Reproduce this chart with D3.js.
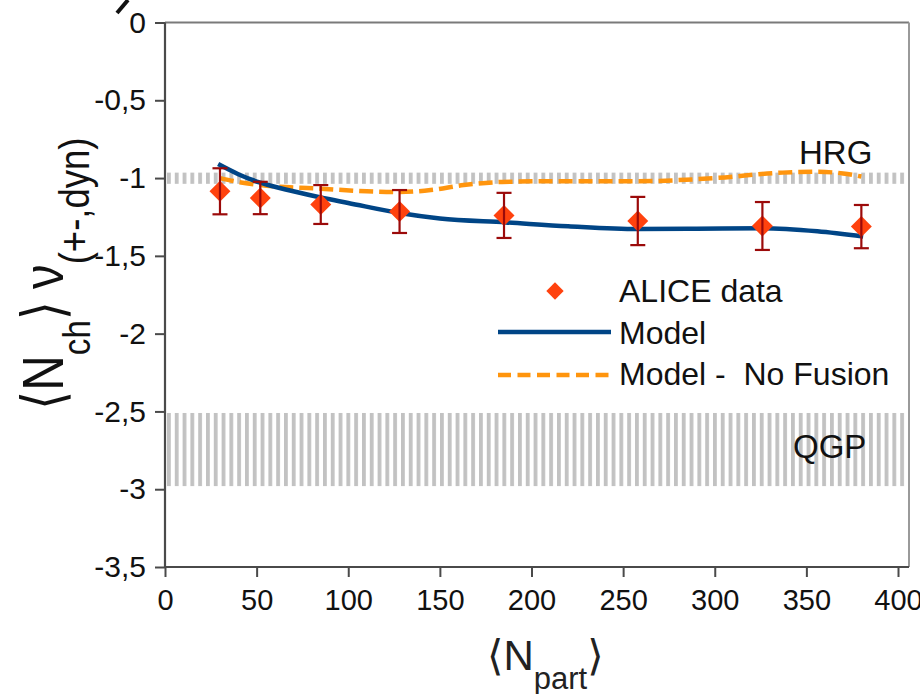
<!DOCTYPE html>
<html>
<head>
<meta charset="utf-8">
<script src="https://cdn.jsdelivr.net/npm/d3@7/dist/d3.min.js"></script>
<style>
  html, body { margin: 0; padding: 0; background: #fff; }
  svg { display: block; font-family: "Liberation Sans", Arial, sans-serif; }
</style>
</head>
<body>
<svg id="chart" width="920" height="694"></svg>
<script>
// ALICE measurement: centrality classes by <Npart>
const npart     = [30, 52, 85, 128, 185, 258, 326, 380];
const nuDyn     = [-1.085, -1.128, -1.17, -1.215, -1.24, -1.276, -1.308, -1.312];
const nuDynErr  = [0.148, 0.104, 0.125, 0.138, 0.145, 0.155, 0.154, 0.139];

// Model curve (with fusion)
const modelX = [29, 40, 52, 70, 85, 100, 128, 150, 186, 220, 258, 290, 326, 356, 381];
const modelY = [-0.91, -0.975, -1.03, -1.085, -1.125, -1.16, -1.225, -1.26, -1.285, -1.31, -1.328, -1.326, -1.322, -1.342, -1.376];

// Model curve without fusion
const noFusionX = [30, 40, 52, 85, 110, 128, 145, 163, 184, 215, 258, 300, 337, 356, 370, 380];
const noFusionY = [-1.0, -1.025, -1.045, -1.068, -1.085, -1.09, -1.077, -1.045, -1.025, -1.02, -1.02, -1.0, -0.965, -0.96, -0.97, -0.99];

// Reference bands
const hrgBand = [-0.965, -1.037];
const qgpBand = [-2.51, -2.98];

const xTicks = [0, 50, 100, 150, 200, 250, 300, 350, 400];
const yTicks = [0, -0.5, -1, -1.5, -2, -2.5, -3, -3.5];
const xDomain = [0, 406];
const yDomain = [-3.5, 0];

const legendLabels = ["ALICE data", "Model", "Model -  No Fusion"];

const svg = d3.select("#chart");
const plotL = 165, plotR = 909, plotT = 22.5, plotB = 567;

const x = d3.scaleLinear().domain(xDomain).range([plotL, plotR]);
const y = d3.scaleLinear().domain(yDomain).range([plotB, plotT]);

// striped fill used by both bands
const defs = svg.append("defs");
const pat = defs.append("pattern")
  .attr("id", "stripes")
  .attr("patternUnits", "userSpaceOnUse")
  .attr("x", plotL + 2).attr("y", 0)
  .attr("width", 7.8).attr("height", 10);
pat.append("rect").attr("x", 0).attr("y", 0)
  .attr("width", 3.8).attr("height", 10).attr("fill", "#c2c2c2");

// bands
svg.append("rect")
  .attr("x", x(0) + 1).attr("width", x(xDomain[1]) - x(0) - 2)
  .attr("y", y(hrgBand[0])).attr("height", y(hrgBand[1]) - y(hrgBand[0]))
  .attr("fill", "url(#stripes)");
svg.append("rect")
  .attr("x", x(0) + 1).attr("width", x(xDomain[1]) - x(0) - 2)
  .attr("y", y(qgpBand[0])).attr("height", y(qgpBand[1]) - y(qgpBand[0]))
  .attr("fill", "url(#stripes)");

// frame: top and right borders
svg.append("line").attr("x1", plotL).attr("x2", plotR).attr("y1", plotT).attr("y2", plotT)
  .attr("stroke", "#7a7a7a").attr("stroke-width", 2);
svg.append("line").attr("x1", plotR).attr("x2", plotR).attr("y1", plotT).attr("y2", plotB)
  .attr("stroke", "#9a9a9a").attr("stroke-width", 2);

// axes
const yAxis = d3.axisLeft(y).tickValues(yTicks).tickSize(10).tickPadding(9)
  .tickFormat(d => d === 0 ? "0" : String(d).replace(".", ","));
const gy = svg.append("g").attr("transform", `translate(${plotL},0)`).call(yAxis);
const xAxis = d3.axisBottom(x).tickValues(xTicks).tickSize(10).tickPadding(12)
  .tickFormat(d3.format("d"));
const gx = svg.append("g").attr("transform", `translate(0,${plotB})`).call(xAxis);

[gx, gy].forEach(g => {
  g.select(".domain").attr("stroke", "#4a4a4a").attr("stroke-width", 2.2);
  g.selectAll(".tick line").attr("stroke", "#4a4a4a").attr("stroke-width", 2);
  g.selectAll(".tick text").attr("fill", "#111")
    .attr("font-family", "Liberation Sans, Arial, sans-serif");
});
gx.selectAll(".tick text").attr("font-size", 29);
gy.selectAll(".tick text").attr("font-size", 30);
gy.select(".domain").attr("d", `M0,${plotB}V${plotT}`);
gx.select(".domain").attr("d", `M${plotL},0H${plotR}`);

// model lines
const line = d3.line().x(d => x(d[0])).y(d => y(d[1])).curve(d3.curveMonotoneX);
svg.append("path")
  .datum(noFusionX.map((v, i) => [v, noFusionY[i]]))
  .attr("d", line).attr("fill", "none")
  .attr("stroke", "#ff950e").attr("stroke-width", 4.5).attr("stroke-dasharray", "14,6");
svg.append("path")
  .datum(modelX.map((v, i) => [v, modelY[i]]))
  .attr("d", line).attr("fill", "none")
  .attr("stroke", "#004586").attr("stroke-width", 4.5);

// data points with error bars
const pts = npart.map((v, i) => ({ x: v, y: nuDyn[i], e: nuDynErr[i] }));
const diamond = d3.symbol().type(d3.symbolSquare).size(220);
const gp = svg.append("g");
gp.selectAll("path.pt").data(pts).join("path")
  .attr("class", "pt")
  .attr("d", diamond)
  .attr("transform", d => `translate(${x(d.x)},${y(d.y)}) rotate(45)`)
  .attr("fill", "#ff420e");
const eb = gp.selectAll("g.eb").data(pts).join("g").attr("class", "eb")
  .attr("stroke", "#9b0a0a").attr("stroke-width", 2.2);
eb.append("line").attr("x1", d => x(d.x)).attr("x2", d => x(d.x))
  .attr("y1", d => y(d.y + d.e)).attr("y2", d => y(d.y - d.e));
eb.append("line").attr("x1", d => x(d.x) - 7.5).attr("x2", d => x(d.x) + 7.5)
  .attr("y1", d => y(d.y + d.e)).attr("y2", d => y(d.y + d.e));
eb.append("line").attr("x1", d => x(d.x) - 7.5).attr("x2", d => x(d.x) + 7.5)
  .attr("y1", d => y(d.y - d.e)).attr("y2", d => y(d.y - d.e));

// band labels
svg.append("text").attr("x", 799).attr("y", 164).attr("font-size", 33).attr("fill", "#111").text("HRG");
svg.append("text").attr("x", 793).attr("y", 458).attr("font-size", 33).attr("fill", "#111").text("QGP");

// legend
const lg = svg.append("g");
lg.append("path").attr("d", d3.symbol().type(d3.symbolSquare).size(150))
  .attr("transform", "translate(555,291) rotate(45)").attr("fill", "#ff420e");
lg.append("line").attr("x1", 498).attr("x2", 611).attr("y1", 332).attr("y2", 332)
  .attr("stroke", "#004586").attr("stroke-width", 4.5);
lg.append("line").attr("x1", 498).attr("x2", 611).attr("y1", 375).attr("y2", 375)
  .attr("stroke", "#ff950e").attr("stroke-width", 4.5).attr("stroke-dasharray", "13,6.5");
lg.selectAll("text").data(legendLabels).join("text")
  .attr("x", 619).attr("y", (d, i) => 302 + i * 41.5)
  .attr("font-size", 32).attr("fill", "#111")
  .attr("xml:space", "preserve").style("white-space", "pre")
  .text(d => d);

// y-axis title: <N_ch> nu_(+-,dyn), glyphs slightly condensed along the reading direction
const yt = svg.append("text")
  .attr("transform", "translate(63,410) rotate(-90) scale(0.85,1)")
  .attr("fill", "#111").attr("font-size", 58);
yt.append("tspan").attr("font-family", "DejaVu Sans").text("\u27E8");
yt.append("tspan").text("N");
yt.append("tspan").attr("font-size", 39).attr("dy", 27).text("ch");
yt.append("tspan").attr("font-family", "DejaVu Sans").attr("dy", -27).text("\u27E9");
yt.append("tspan").attr("dx", 14).text("\u03BD");
yt.append("tspan").attr("font-size", 43).attr("dy", 26).text("(+-,dyn)");

// small stroke above the title
svg.append("line").attr("x1", 117).attr("y1", 13).attr("x2", 128).attr("y2", 0)
  .attr("stroke", "#111").attr("stroke-width", 4);

// x-axis title: <N_part>
const xt = svg.append("text").attr("x", 487).attr("y", 670)
  .attr("fill", "#222").attr("font-size", 42);
xt.append("tspan").attr("font-family", "DejaVu Sans").text("\u27E8");
xt.append("tspan").text("N");
xt.append("tspan").attr("font-size", 31).attr("dy", 19).text("part");
xt.append("tspan").attr("font-family", "DejaVu Sans").attr("dy", -19).text("\u27E9");
</script>
</body>
</html>
